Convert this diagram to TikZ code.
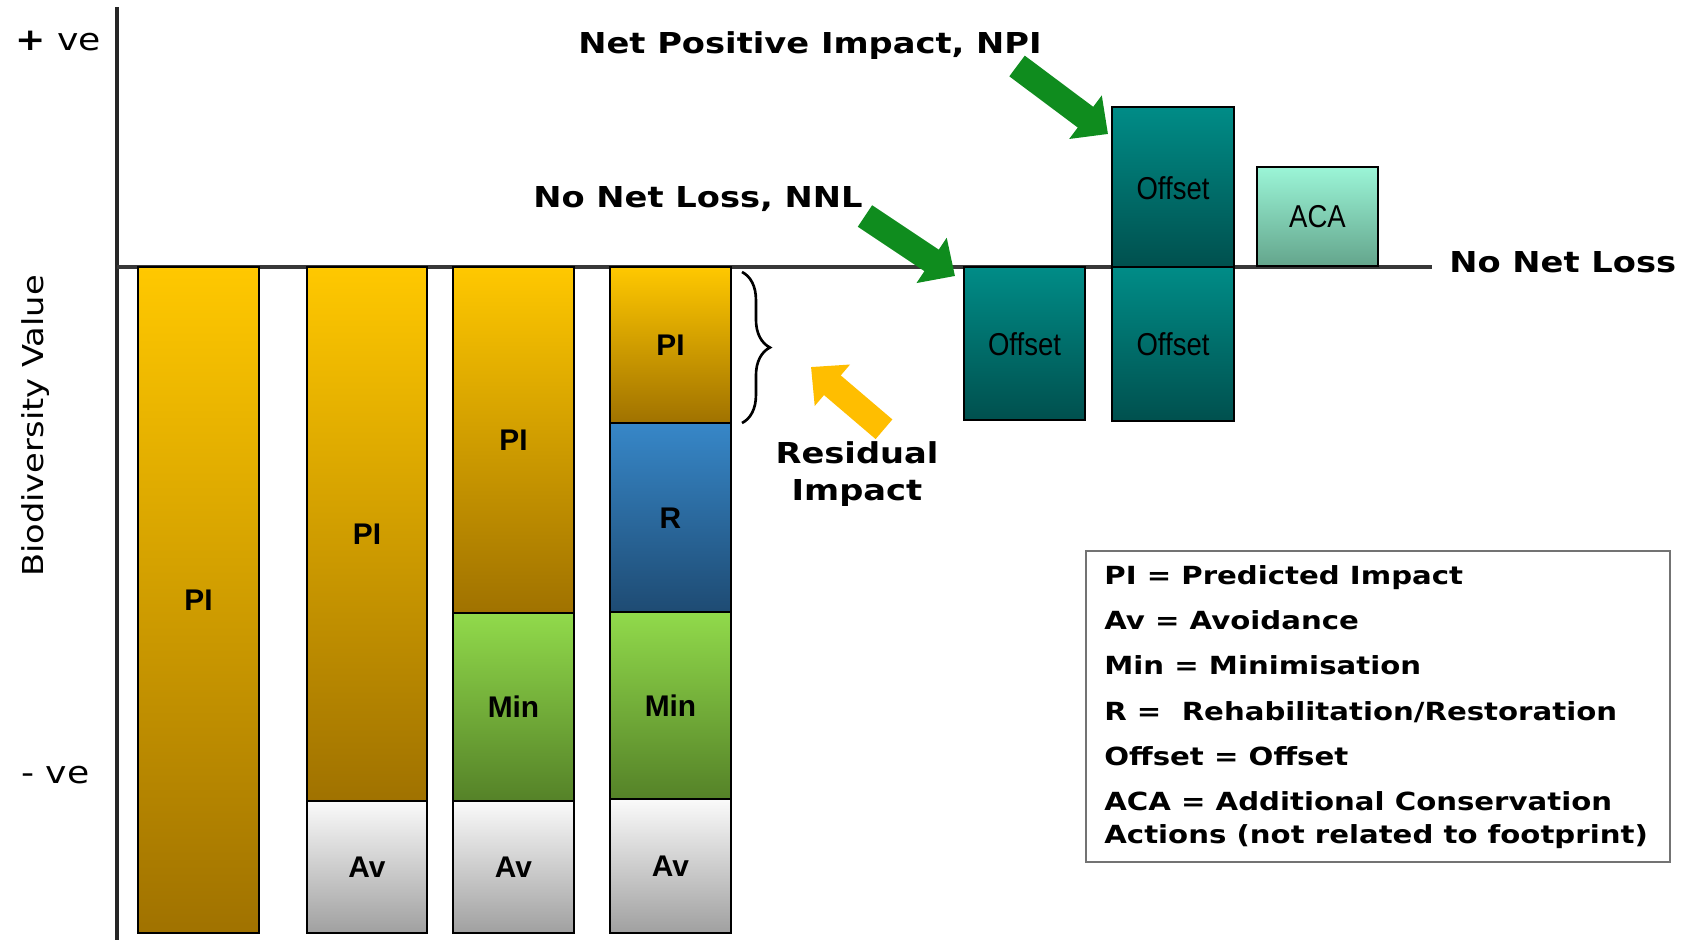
\documentclass[tikz,border=0pt]{standalone}
\usepackage{fontspec}
\setmainfont{Liberation Sans}
\newfontfamily\widefont[FakeStretch=1.17]{DejaVu Sans}
\newfontfamily\narrowfont[FakeStretch=0.87]{Liberation Sans}
\usetikzlibrary{calc,arrows.meta,decorations.pathreplacing}
\definecolor{impacttop}{HTML}{FFC800}
\definecolor{impactbot}{HTML}{A07200}
\definecolor{mintop}{HTML}{91DA4B}
\definecolor{minbot}{HTML}{558228}
\definecolor{avtop}{HTML}{FAFAFA}
\definecolor{avbot}{HTML}{A0A0A0}
\definecolor{resttop}{HTML}{3787C8}
\definecolor{restbot}{HTML}{1E4B73}
\definecolor{offtop}{HTML}{008C87}
\definecolor{offbot}{HTML}{00504E}
\definecolor{acatop}{HTML}{9BF5D7}
\definecolor{acabot}{HTML}{64A58C}
\definecolor{pointgreen}{HTML}{0F8C1E}
\definecolor{pointyellow}{HTML}{FFBE00}

\begin{document}
\begin{tikzpicture}[x=0.02cm, y=-0.02cm,
  seg/.style={draw=black, line width=0.6pt},
  impactbar/.style={seg, top color=impacttop, bottom color=impactbot},
  minbar/.style={seg, top color=mintop, bottom color=minbot},
  avoidbar/.style={seg, top color=avtop, bottom color=avbot},
  restbar/.style={seg, top color=resttop, bottom color=restbot},
  offsetbar/.style={seg, top color=offtop, bottom color=offbot},
  acabar/.style={seg, top color=acatop, bottom color=acabot},
  barlabel/.style={font=\bfseries\fontsize{17}{20}\selectfont},
  offlabel/.style={font=\narrowfont\fontsize{18}{21}\selectfont},
  headlabel/.style={font=\widefont\bfseries\fontsize{16.4}{21}\selectfont, inner sep=0pt},
  keytext/.style={font=\widefont\bfseries\fontsize{14.2}{18}\selectfont, anchor=base west, inner sep=0pt},
  blockarrow/.style={line width=14.7pt, -{Triangle[width=30pt,length=16pt]}}
]
  \fill[white] (0,0) rectangle (1698,940);
  \useasboundingbox (0,0) rectangle (1698,940);

  % axis and the no net loss line
  \draw[line width=2pt, black!85] (117,7) -- (117,940);
  \draw[line width=2.3pt, black!78] (117,267) -- (1432,267);
  \node[font=\widefont\fontsize{17.6}{20}\selectfont, anchor=base west, inner sep=0pt] (plus) at (15,50) {{\bfseries+} ve};
  \node[font=\widefont\fontsize{17.6}{20}\selectfont, anchor=base west, inner sep=0pt] (minus) at (21,783) {- ve};
  \node[font=\widefont\fontsize{16.4}{20}\selectfont, rotate=90] (yaxis) at (36,426) {Biodiversity Value};

  % mitigation bars
  \draw[impactbar] (138,267) rectangle (259,933);
  \node[barlabel] (pia) at (198.5,600) {PI};

  \draw[impactbar] (307,267) rectangle (427,801);
  \draw[avoidbar] (307,801) rectangle (427,933);
  \node[barlabel] (pib) at (367,534) {PI};
  \node[barlabel] (avb) at (367,867) {Av};

  \draw[impactbar] (453,267) rectangle (574,613);
  \draw[minbar] (453,613) rectangle (574,801);
  \draw[avoidbar] (453,801) rectangle (574,933);
  \node[barlabel] (pic) at (513.5,440) {PI};
  \node[barlabel] (minc) at (513.5,707) {Min};
  \node[barlabel] (avc) at (513.5,867) {Av};

  \draw[impactbar] (610,267) rectangle (731,423);
  \draw[restbar] (610,423) rectangle (731,612);
  \draw[minbar] (610,612) rectangle (731,799);
  \draw[avoidbar] (610,799) rectangle (731,933);
  \node[barlabel] (pid) at (670.5,345) {PI};
  \node[barlabel] (rd) at (670.5,518) {R};
  \node[barlabel] (mind) at (670.5,706) {Min};
  \node[barlabel] (avd) at (670.5,866) {Av};

  % offsets and ACA
  \draw[offsetbar] (964,267) coordinate (offa) rectangle (1085,420);
  \node[offlabel] (offsa) at (1024.5,344) {Offset};
  \draw[offsetbar] (1112,107) coordinate (offb) rectangle (1234,267);
  \draw[offsetbar] (1112,267) rectangle (1234,421);
  \node[offlabel] (offsb) at (1173,188) {Offset};
  \node[offlabel] (offsc) at (1173,344) {Offset};
  \draw[acabar] (1257,167) rectangle (1378,266);
  \node[offlabel] (aca) at (1317.5,217) {ACA};

  % headings
  \node[headlabel, anchor=base west] (npi) at (578,53) {Net Positive Impact, NPI};
  \node[headlabel, anchor=base west] (nnl) at (533,207) {No Net Loss, NNL};
  \node[headlabel, anchor=base west] (nnlline) at (1449,272) {No Net Loss};
  \node[headlabel, align=center] (resid) at (857,474) {Residual\\Impact};

  % residual brace
  \draw[decorate, decoration={brace, amplitude=15.9pt}, line width=1.5pt] (742,272) -- (742,423);
  \coordinate (brace) at (770,348);

  \draw[blockarrow, pointgreen] ($(npi.base east)+(-25,13)$) -- ($(offb)+(-4,27)$);
  \draw[blockarrow, pointgreen] ($(nnl.base east)+(2,9)$) -- ($(offa)+(-9,9)$);
  \draw[blockarrow, pointyellow] ($(resid.north)+(27,-12)$) -- ($(brace)+(41,19)$);

  % key
  \draw[line width=1.1pt, black!55] (1086,551) rectangle (1670,862);
  \node[keytext] (kpi) at (1104,584) {PI = Predicted Impact};
  \node[keytext] (kav) at (1104,629) {Av = Avoidance};
  \node[keytext] (kmin) at (1104,674) {Min = Minimisation};
  \node[keytext] (kr) at (1104,720) {R =\ \ Rehabilitation/Restoration};
  \node[keytext] (koff) at (1104,765) {Offset = Offset};
  \node[keytext] (kaca) at (1104,810) {ACA = Additional Conservation};
  \node[keytext] (kact) at (1104,843) {Actions (not related to footprint)};
\end{tikzpicture}
\end{document}
